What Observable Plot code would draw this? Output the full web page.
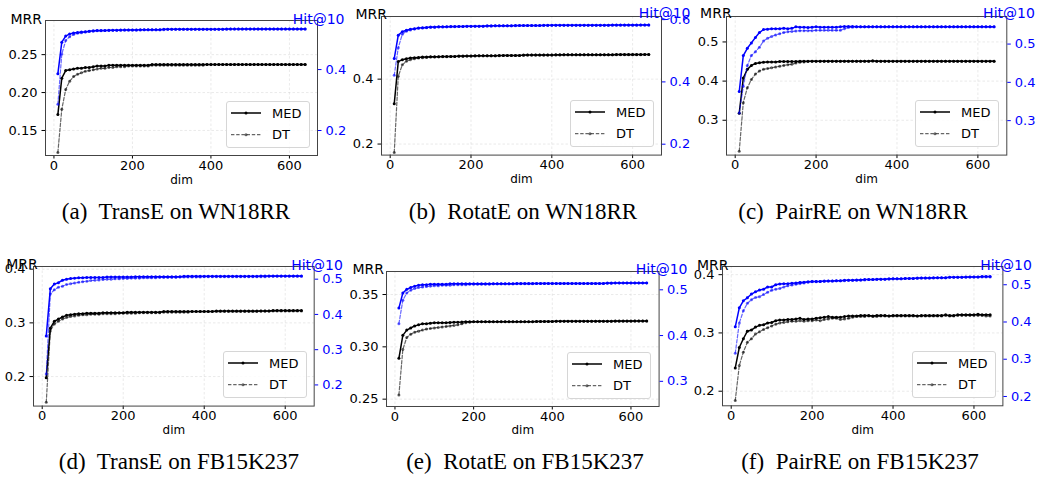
<!DOCTYPE html>
<html><head><meta charset="utf-8">
<script src="https://cdn.jsdelivr.net/npm/d3@7"></script>
<script src="https://cdn.jsdelivr.net/npm/@observablehq/plot@0.6"></script>
<style>
html,body{margin:0;padding:0;background:#fff;width:1038px;height:478px;overflow:hidden;}
#fig{position:relative;width:1038px;height:478px;overflow:hidden;}
.layer{position:absolute;}
.layer svg{max-width:none !important;display:block;}
.legend{position:absolute;box-sizing:border-box;width:84px;height:47px;border:1px solid #d6d6d6;border-radius:3px;background:rgba(255,255,255,0.85);}
.legend svg{position:absolute;left:-1px;top:-1px;overflow:visible;}
.caption{position:absolute;font-family:"Liberation Serif","Times New Roman",serif;font-size:23px;white-space:pre;transform:translate(-50%,-50%);color:#000;}
</style></head><body><div id="fig"></div>
<script>
// ---------- data ----------
const dims = [10,20,30,40,50,60,70,80,90,100,110,120,130,140,150,160,170,180,190,200,210,220,230,240,250,260,270,280,290,300,310,320,330,340,350,360,370,380,390,400,410,420,430,440,450,460,470,480,490,500,510,520,530,540,550,560,570,580,590,600,610,620,630,640];
const xTicks = [0, 200, 400, 600];

// (a) TransE on WN18RR
const aMrrMed = [.171,.219,.229,.230,.231,.232,.232,.233,.233,.234, .235,.235,.235,.236,.236,.236,.236,.236,.236,.236, .236,.236,.236,.236,.237,.237,.237,.237,.237,.237, .237,.237,.237,.237,.237,.237,.237,.237,.237,.237, .237,.237,.237,.237,.237,.237,.237,.237,.237,.237, .237,.237,.237,.237,.237,.237,.237,.237,.237,.237, .237,.237,.237,.237];
const aMrrDt = [.121,.178,.204,.215,.221,.224,.226,.228,.229,.230, .231,.232,.232,.233,.233,.234,.234,.234,.235,.235, .235,.235,.235,.235,.236,.236,.236,.236,.236,.236, .236,.236,.236,.236,.236,.236,.236,.236,.237,.237, .237,.237,.237,.237,.237,.237,.237,.237,.237,.237, .237,.237,.237,.237,.237,.237,.237,.237,.237,.237, .237,.237,.237,.237];
const aHitMed = [.386,.490,.510,.517,.520,.522,.523,.524,.526,.527, .528,.528,.528,.529,.529,.529,.530,.530,.530,.530, .530,.531,.531,.531,.531,.531,.531,.532,.532,.532, .532,.532,.532,.532,.532,.532,.532,.532,.532,.532, .532,.532,.532,.533,.533,.533,.533,.533,.533,.533, .533,.533,.533,.533,.533,.533,.533,.533,.533,.533, .533,.533,.533,.533];
const aHitDt = [.286,.451,.495,.508,.515,.519,.521,.523,.525,.526, .527,.527,.528,.528,.529,.529,.529,.530,.530,.530, .530,.530,.531,.531,.531,.531,.531,.531,.532,.532, .532,.532,.532,.532,.532,.532,.532,.532,.532,.532, .532,.532,.532,.532,.533,.533,.533,.533,.533,.533, .533,.533,.533,.533,.533,.533,.533,.533,.533,.533, .533,.533,.533,.533];
const aMrrTicks = [0.15, 0.20, 0.25];
const aHitTicks = [0.2, 0.4];

// (b) RotatE on WN18RR
const bMrrMed = [.324,.454,.460,.463,.465,.466,.467,.468,.468,.469, .469,.469,.470,.470,.470,.470,.471,.471,.471,.471, .472,.472,.472,.472,.472,.472,.473,.473,.473,.473, .473,.473,.474,.474,.474,.474,.474,.474,.474,.474, .475,.475,.475,.475,.475,.475,.475,.475,.475,.475, .475,.475,.475,.475,.475,.476,.476,.476,.476,.476, .476,.476,.476,.476];
const bMrrDt = [.174,.409,.444,.455,.460,.463,.465,.466,.467,.468, .468,.469,.469,.469,.470,.470,.470,.470,.471,.471, .471,.472,.472,.472,.472,.472,.472,.473,.473,.473, .473,.473,.473,.474,.474,.474,.474,.474,.474,.474, .474,.474,.475,.475,.475,.475,.475,.475,.475,.475, .475,.475,.475,.475,.475,.475,.475,.475,.475,.475, .475,.475,.476,.476];
const bHitMed = [.475,.550,.561,.566,.569,.571,.573,.574,.575,.576, .576,.577,.577,.577,.578,.578,.578,.578,.579,.579, .579,.579,.579,.580,.580,.580,.580,.580,.580,.580, .581,.581,.581,.581,.581,.581,.581,.582,.582,.582, .582,.582,.582,.582,.582,.582,.582,.582,.582,.582, .582,.582,.582,.582,.583,.583,.583,.583,.583,.583, .583,.583,.583,.583];
const bHitDt = [.421,.510,.553,.563,.567,.570,.572,.573,.574,.575, .575,.576,.576,.577,.577,.577,.578,.578,.578,.578, .579,.579,.579,.579,.579,.580,.580,.580,.580,.580, .580,.581,.581,.581,.581,.581,.581,.581,.581,.582, .582,.582,.582,.582,.582,.582,.582,.582,.582,.582, .582,.582,.582,.582,.582,.582,.582,.582,.582,.582, .582,.583,.583,.583];
const bMrrTicks = [0.2, 0.4];
const bHitTicks = [0.2, 0.4, 0.6];

// (c) PairRE on WN18RR
const cMrrMed = [.318,.408,.430,.440,.445,.447,.448,.449,.449,.449, .450,.450,.450,.450,.450,.451,.451,.451,.451,.451, .451,.451,.451,.451,.451,.451,.451,.451,.451,.451, .451,.451,.451,.452,.451,.451,.451,.451,.451,.451, .451,.451,.451,.451,.451,.451,.451,.451,.451,.451, .451,.451,.451,.451,.451,.451,.451,.451,.451,.451, .451,.451,.451,.451];
const cMrrDt = [.221,.345,.383,.404,.418,.426,.430,.432,.434,.436, .438,.440,.442,.443,.446,.448,.449,.450,.451,.451, .451,.451,.451,.451,.451,.451,.451,.451,.451,.451, .451,.451,.451,.451,.451,.451,.451,.451,.451,.451, .451,.451,.451,.451,.451,.451,.451,.451,.451,.451, .451,.451,.451,.451,.451,.451,.451,.451,.451,.451, .451,.451,.451,.451];
const cHitMed = [.376,.470,.489,.503,.517,.530,.538,.539,.540,.540, .540,.541,.540,.541,.545,.544,.544,.543,.544,.545, .544,.544,.544,.544,.544,.545,.546,.546,.546,.545, .545,.545,.545,.545,.545,.545,.545,.545,.545,.545, .545,.545,.545,.545,.545,.545,.545,.545,.545,.545, .545,.545,.545,.545,.545,.545,.545,.545,.545,.545, .545,.545,.545,.545];
const cHitDt = [.320,.390,.444,.470,.480,.492,.508,.515,.520,.524, .527,.530,.532,.533,.534,.535,.535,.535,.535,.536, .536,.536,.536,.536,.536,.536,.540,.543,.544,.545, .545,.545,.545,.545,.545,.545,.545,.545,.545,.545, .545,.545,.545,.545,.545,.545,.545,.545,.545,.545, .545,.545,.545,.545,.545,.545,.545,.545,.545,.545, .545,.545,.545,.545];
const cMrrTicks = [0.3, 0.4, 0.5];
const cHitTicks = [0.3, 0.4, 0.5];

// (d) TransE on FB15K237
const dMrrMed = [.198,.290,.303,.307,.311,.314,.315,.316,.317,.317, .318,.318,.318,.318,.319,.319,.319,.319,.319,.319, .320,.320,.320,.320,.320,.320,.320,.320,.320,.321, .321,.321,.321,.321,.321,.321,.321,.321,.321,.321, .321,.321,.322,.322,.322,.322,.322,.322,.322,.322, .322,.322,.322,.322,.322,.322,.323,.323,.323,.323, .323,.323,.323,.323];
const dMrrDt = [.152,.285,.298,.303,.307,.310,.312,.313,.314,.315, .315,.316,.316,.316,.317,.317,.317,.317,.318,.318, .318,.318,.318,.319,.319,.319,.319,.319,.319,.320, .320,.320,.320,.320,.320,.320,.321,.321,.321,.321, .321,.321,.321,.321,.321,.321,.321,.321,.321,.321, .321,.321,.321,.322,.322,.322,.322,.322,.322,.322, .322,.322,.322,.322];
const dHitMed = [.339,.473,.486,.490,.497,.500,.502,.503,.504,.504, .505,.505,.505,.505,.505,.506,.506,.506,.506,.506, .506,.506,.507,.507,.507,.507,.507,.507,.507,.507, .507,.507,.507,.507,.508,.508,.508,.508,.508,.508, .508,.508,.508,.508,.508,.508,.508,.508,.508,.508, .508,.508,.508,.509,.509,.509,.509,.509,.509,.509, .509,.509,.509,.509];
const dHitDt = [.231,.458,.470,.477,.480,.485,.487,.489,.491,.493, .494,.496,.497,.498,.499,.500,.500,.501,.501,.502, .502,.503,.503,.503,.504,.504,.504,.504,.505,.505, .505,.505,.505,.506,.506,.506,.506,.506,.506,.507, .507,.507,.507,.507,.507,.507,.507,.507,.507,.507, .507,.507,.507,.507,.507,.508,.508,.508,.508,.508, .508,.508,.508,.508];
const dMrrTicks = [0.2, 0.3, 0.4];
const dHitTicks = [0.2, 0.3, 0.4, 0.5];

// (e) RotatE on FB15K237
const eMrrMed = [.289,.311,.316,.318,.320,.321,.322,.322,.3225,.323, .323,.323,.323,.3233,.3235,.3235,.3237,.324,.324,.324, .324,.324,.324,.324,.324,.324,.324,.324,.324,.324, .324,.324,.324,.324,.324,.3243,.3243,.3243,.3243,.3243, .3245,.3245,.3245,.3245,.3245,.3245,.3245,.3245,.3245,.3245, .3245,.3245,.3245,.3245,.3245,.3247,.3247,.3247,.3247,.3247, .3247,.3247,.3247,.3247];
const eMrrDt = [.254,.2975,.309,.312,.314,.315,.316,.317,.3175,.318, .3185,.319,.3195,.320,.3205,.321,.322,.323,.3235,.324, .324,.324,.324,.324,.324,.324,.324,.324,.324,.324, .324,.324,.324,.324,.324,.3243,.3243,.3243,.3243,.3243, .3245,.3245,.3245,.3245,.3245,.3245,.3245,.3245,.3245,.3245, .3245,.3245,.3245,.3245,.3245,.3245,.3245,.3245,.3245,.3245, .3247,.3247,.3247,.3247];
const eHitMed = [.460,.493,.501,.505,.508,.510,.511,.511,.512,.512, .512,.512,.512,.513,.513,.513,.513,.513,.513,.513, .513,.513,.513,.513,.513,.513,.513,.513,.513,.513, .514,.514,.514,.514,.514,.514,.514,.514,.514,.514, .514,.514,.514,.514,.514,.514,.514,.514,.514,.514, .514,.514,.514,.515,.515,.515,.515,.515,.515,.515, .515,.515,.515,.515];
const eHitDt = [.426,.477,.493,.499,.503,.505,.506,.507,.508,.509, .509,.510,.510,.510,.511,.511,.511,.511,.512,.512, .512,.512,.512,.512,.513,.513,.513,.513,.513,.513, .513,.513,.513,.513,.513,.514,.514,.514,.514,.514, .514,.514,.514,.514,.514,.514,.514,.514,.514,.514, .514,.514,.514,.514,.514,.515,.515,.515,.515,.515, .515,.515,.515,.515];
const eMrrTicks = [0.25, 0.30, 0.35];
const eHitTicks = [0.3, 0.4, 0.5];

// (f) PairRE on FB15K237
const fMrrMed = [.240,.275,.290,.303,.305,.310,.313,.314,.317,.318, .321,.322,.322,.323,.323,.324,.325,.323,.324,.324, .325,.326,.327,.328,.327,.327,.327,.328,.329,.329, .329,.330,.330,.330,.329,.330,.330,.330,.329,.330, .330,.330,.330,.330,.330,.329,.330,.330,.330,.330, .330,.330,.331,.330,.330,.331,.331,.331,.331,.331, .332,.331,.331,.331];
const fMrrDt = [.184,.244,.267,.284,.290,.298,.302,.306,.309,.312, .315,.317,.318,.319,.320,.320,.321,.320,.321,.321, .322,.321,.323,.324,.325,.325,.323,.324,.325,.327, .328,.328,.328,.329,.328,.328,.329,.329,.329,.329, .329,.329,.329,.329,.329,.329,.329,.329,.329,.329, .329,.329,.330,.329,.329,.330,.330,.330,.330,.330, .330,.330,.329,.329];
const fHitMed = [.387,.438,.457,.465,.475,.481,.486,.488,.494,.494, .500,.502,.503,.503,.504,.505,.506,.507,.508,.509, .509,.509,.510,.510,.510,.511,.511,.512,.512,.512, .513,.513,.514,.514,.514,.515,.515,.515,.516,.516, .516,.516,.517,.517,.517,.518,.518,.518,.518,.519, .519,.519,.519,.520,.520,.520,.520,.521,.521,.521, .521,.522,.522,.522];
const fHitDt = [.316,.397,.430,.450,.460,.466,.468,.474,.480,.485, .488,.490,.494,.497,.499,.501,.503,.505,.507,.508, .508,.509,.509,.510,.510,.511,.511,.511,.512,.512, .512,.513,.513,.514,.514,.514,.515,.515,.515,.516, .516,.516,.517,.517,.517,.517,.518,.518,.518,.518, .519,.519,.519,.520,.520,.520,.520,.520,.521,.521, .521,.521,.521,.521];
const fMrrTicks = [0.2, 0.3, 0.4];
const fHitTicks = [0.2, 0.3, 0.4, 0.5];

const captions = ["(a)  TransE on WN18RR","(b)  RotatE on WN18RR","(c)  PairRE on WN18RR","(d)  TransE on FB15K237","(e)  RotatE on FB15K237","(f)  PairRE on FB15K237"];
const legendNames = ["MED", "DT"];

// ---------- layout (positions / scale extents) ----------
const panels = [
 {frame:[45,20,317,155], xDom:[-21.5,671.5], mrrDom:[0.117,0.295], hitDom:[0.118,0.561], mrrFmt:".2f", mrrLab:[10,13.3], hitLab:[344,13.3], cap:[176,212],
  mrrTicks:aMrrTicks, hitTicks:aHitTicks, s:[aMrrMed,aMrrDt,aHitMed,aHitDt]},
 {frame:[381,15.7,661,154.3], xDom:[-21.5,671.5], mrrDom:[0.166,0.593], hitDom:[0.165,0.61], mrrFmt:".1f", mrrLab:[355,8.3], hitLab:[690,7.5], cap:[523,212],
  mrrTicks:bMrrTicks, hitTicks:bHitTicks, s:[bMrrMed,bMrrDt,bHitMed,bHitDt]},
 {frame:[725.7,15.7,1006,154.3], xDom:[-21.5,671.5], mrrDom:[0.211,0.565], hitDom:[0.210,0.572], mrrFmt:".1f", mrrLab:[699.3,7.5], hitLab:[1034,7.5], cap:[853,212],
  mrrTicks:cMrrTicks, hitTicks:cHitTicks, s:[cMrrMed,cMrrDt,cHitMed,cHitDt]},
 {frame:[33.3,265.7,314,405.3], xDom:[-21.5,671.5], mrrDom:[0.145,0.405], hitDom:[0.140,0.536], mrrFmt:".1f", mrrLab:[6,258.3], hitLab:[342.7,259], cap:[179,462],
  mrrTicks:dMrrTicks, hitTicks:dHitTicks, s:[dMrrMed,dMrrDt,dHitMed,dHitDt]},
 {frame:[385.7,271,658.3,406], xDom:[-21.5,671.5], mrrDom:[0.243,0.372], hitDom:[0.245,0.540], mrrFmt:".2f", mrrLab:[351.7,263.3], hitLab:[686.7,263.3], cap:[525,462],
  mrrTicks:eMrrTicks, hitTicks:eHitTicks, s:[eMrrMed,eMrrDt,eHitMed,eHitDt]},
 {frame:[722.3,265.7,1002.7,405], xDom:[-21.5,671.5], mrrDom:[0.175,0.414], hitDom:[0.175,0.549], mrrFmt:".1f", mrrLab:[696.7,259.3], hitLab:[1031.7,259], cap:[860,462],
  mrrTicks:fMrrTicks, hitTicks:fHitTicks, s:[fMrrMed,fMrrDt,fHitMed,fHitDt]}
];

const ML = 50, MR = 50, MT = 30, MB = 45;
const BLUE = "#0000ff";
const GRID = {stroke: "#cfcfcf", strokeOpacity: 0.55, strokeDasharray: "2.5,2", strokeWidth: 0.8};
const fig = document.getElementById("fig");
const toRows = arr => dims.map((d, i) => ({dim: d, v: arr[i]}));

function series(arr, color, dashed, opacity) {
  const rows = toRows(arr);
  return [
    Plot.line(rows, {x: "dim", y: "v", stroke: color, strokeOpacity: opacity, strokeWidth: dashed ? 1.2 : 1.5,
      strokeDasharray: dashed ? "3.4,1.8" : null}),
    Plot.dot(rows, {x: "dim", y: "v", r: 1.5, fill: color, fillOpacity: opacity, stroke: null})
  ];
}

panels.forEach((p, k) => {
  const [x0, y0, x1, y1] = p.frame;
  const W = x1 - x0 + ML + MR, H = y1 - y0 + MT + MB;
  const common = {
    width: W, height: H, marginLeft: ML, marginRight: MR, marginTop: MT, marginBottom: MB,
    style: {fontFamily: "DejaVu Sans", fontSize: "13px", background: "transparent", overflow: "visible", maxWidth: "none"}
  };
  // MRR layer (left axis)
  const mrr = Plot.plot({
    ...common,
    x: {domain: p.xDom},
    y: {domain: p.mrrDom},
    marks: [
      Plot.gridX(xTicks, GRID),
      Plot.gridY(p.mrrTicks, GRID),
      Plot.axisX(xTicks, {tickSize: 3.5, tickPadding: 1.5, fontSize: 13, label: null}),
      Plot.axisY(p.mrrTicks, {anchor: "left", tickSize: 3.5, tickPadding: 4.5, fontSize: 13, tickFormat: d3.format(p.mrrFmt), label: null}),
      ...series(p.s[1], "#000000", true, 0.6),
      ...series(p.s[0], "#000000", false, 1),
      Plot.frame({stroke: "#444", strokeWidth: 1}),
      Plot.text(["dim"], {text: d => d, frameAnchor: "bottom", dy: 28, fontSize: 12}),
      Plot.text(["MRR"], {text: d => d, frameAnchor: "top-left", textAnchor: "start", dx: p.mrrLab[0] - x0, dy: p.mrrLab[1] - y0, fontSize: 14})
    ]
  });
  // Hit@10 layer (right axis)
  const hit = Plot.plot({
    ...common,
    x: {domain: p.xDom, axis: null},
    y: {domain: p.hitDom, axis: null},
    marks: [
      Plot.axisY(p.hitTicks, {anchor: "right", tickSize: 3.5, tickPadding: 4.5, fontSize: 13, color: BLUE, tickFormat: d3.format(".1f"), label: null}),
      ...series(p.s[3], BLUE, true, 0.6),
      ...series(p.s[2], BLUE, false, 1),
      Plot.text(["Hit@10"], {text: d => d, frameAnchor: "top-right", textAnchor: "end", dx: p.hitLab[0] - x1, dy: p.hitLab[1] - y0, fontSize: 14, fill: BLUE})
    ]
  });
  [mrr, hit].forEach(svg => {
    const div = document.createElement("div");
    div.className = "layer";
    div.style.left = (x0 - ML) + "px";
    div.style.top = (y0 - MT) + "px";
    div.style.width = W + "px";
    div.style.height = H + "px";
    div.appendChild(svg);
    fig.appendChild(div);
  });
  // legend
  const lg = document.createElement("div");
  lg.className = "legend";
  lg.style.left = (x1 - 7 - 84) + "px";
  lg.style.top = (y1 - 7 - 47) + "px";
  lg.innerHTML = `<svg width="84" height="47" font-family="DejaVu Sans" font-size="13">
    <line x1="5" x2="35" y1="12" y2="12" stroke="#000" stroke-width="1.5"/>
    <circle cx="20" cy="12" r="1.5" fill="#000"/>
    <text x="46" y="12" dy="0.35em">${legendNames[0]}</text>
    <line x1="5" x2="35" y1="33.7" y2="33.7" stroke="#000" stroke-opacity="0.6" stroke-width="1.2" stroke-dasharray="3.4,1.8"/>
    <circle cx="20" cy="33.7" r="1.5" fill="#000" fill-opacity="0.6"/>
    <text x="46" y="33.7" dy="0.35em">${legendNames[1]}</text>
  </svg>`;
  fig.appendChild(lg);
  // caption
  const cap = document.createElement("div");
  cap.className = "caption";
  cap.style.left = p.cap[0] + "px";
  cap.style.top = p.cap[1] + "px";
  cap.textContent = captions[k];
  fig.appendChild(cap);
});
</script>
</body></html>
